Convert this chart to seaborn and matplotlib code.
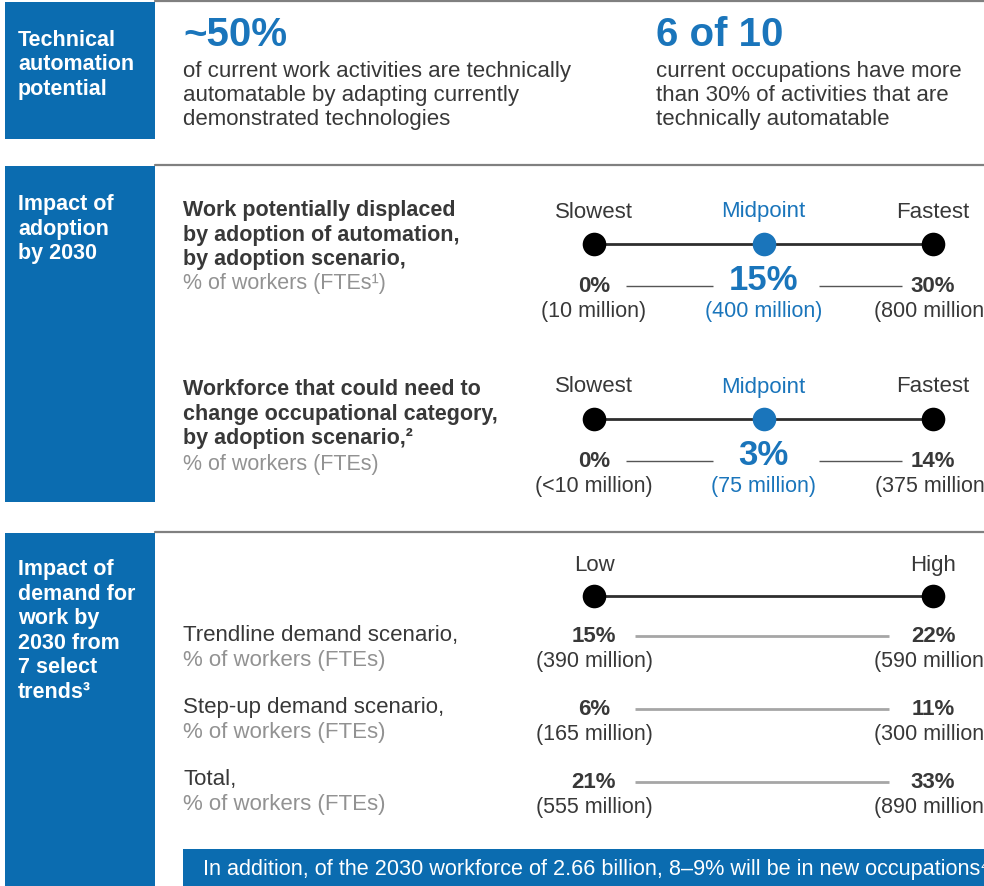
import pandas as pd
import seaborn as sns
import matplotlib.pyplot as plt
from matplotlib.patches import Rectangle

sns.set_theme(style='white')
plt.rcParams['font.family'] = ['Liberation Sans', 'DejaVu Sans']

# dados
section_titles = [
    ['Technical', 'automation', 'potential'],
    ['Impact of', 'adoption', 'by 2030'],
    ['Impact of', 'demand for', 'work by', '2030 from', '7 select', 'trends³'],
]
headline_values = ['~50%', '6 of 10']
headline_texts = [
    ['of current work activities are technically',
     'automatable by adapting currently',
     'demonstrated technologies'],
    ['current occupations have more',
     'than 30% of activities that are',
     'technically automatable'],
]

adoption_scenarios = ['Slowest', 'Midpoint', 'Fastest']
displaced_title = ['Work potentially displaced', 'by adoption of automation,',
                   'by adoption scenario,']
displaced_pct = [0, 15, 30]
displaced_millions = ['10', '400', '800']
change_title = ['Workforce that could need to', 'change occupational category,',
                'by adoption scenario,²']
change_pct = [0, 3, 14]
change_millions = ['<10', '75', '375']

demand_levels = ['Low', 'High']
demand_scenarios = ['Trendline demand scenario,', 'Step-up demand scenario,', 'Total,']
demand_pct = [[15, 22], [6, 11], [21, 33]]
demand_millions = [[390, 590], [165, 300], [555, 890]]

banner_text = 'In addition, of the 2030 workforce of 2.66 billion, 8–9% will be in new occupations⁴'

# cores
BLUE_BOX = '#0b6cb0'
BLUE_TXT = '#1a75bb'
DARK = '#383838'
GRAY = '#929292'

W, H = 984, 887
fig = plt.figure(figsize=(W / 100, H / 100), dpi=100)
bg = fig.add_axes([0, 0, 1, 1])
bg.set_xlim(0, W)
bg.set_ylim(H, 0)
bg.axis('off')

# caixas azuis e linhas de separação
for top, bottom in [(3, 140), (167, 503), (534, 887)]:
    bg.add_patch(Rectangle((5, top), 150, bottom - top, color=BLUE_BOX, lw=0))
    bg.plot([155, W], [top - 1, top - 1], color='#808080', lw=1.6)

for lines, y0 in zip(section_titles, [40, 205, 570]):
    for i, line in enumerate(lines):
        bg.text(18, y0 + i * 24.5, line, color='white', fontsize=15.5,
                fontweight='bold', va='center')

# secção 1
for val, lines, x0 in zip(headline_values, headline_texts, [183, 656]):
    bg.text(x0, 35, val, color=BLUE_TXT, fontsize=29, fontweight='bold', va='center')
    for i, line in enumerate(lines):
        bg.text(x0, 71 + i * 24.5, line, color=DARK, fontsize=16, va='center')

# textos da esquerda (secção 2)
for lines, y0 in zip([displaced_title, change_title], [211, 390]):
    for i, line in enumerate(lines):
        bg.text(183, y0 + i * 24.5, line, color=DARK, fontsize=15.5,
                fontweight='bold', va='center')
bg.text(183, 284, '% of workers (FTEs¹)', color=GRAY, fontsize=15.5, va='center')
bg.text(183, 465, '% of workers (FTEs)', color=GRAY, fontsize=15.5, va='center')

# textos da esquerda (secção 3)
for i, name in enumerate(demand_scenarios):
    y = 636 + i * 72
    bg.text(183, y, name, color=DARK, fontsize=16, va='center')
    bg.text(183, y + 25, '% of workers (FTEs)', color=GRAY, fontsize=16, va='center')

# faixa inferior
bg.add_patch(Rectangle((183, 850), W - 183, 40, color=BLUE_BOX, lw=0))
bg.text(203, 870, banner_text, color='white', fontsize=15.6, va='center')


def strip_axes(top, bottom):
    ax = fig.add_axes([594 / W, 1 - bottom / H, (933 - 594) / W, (bottom - top) / H])
    return ax


def draw_strip(ax, labels, dot_y, dot_colors, label_y, label_colors, top, bottom):
    df = pd.DataFrame({'scenario': labels, 'y': [dot_y] * len(labels)})
    sns.pointplot(data=df, x='scenario', y='y', color='#2e2e2e', markers='',
                  linewidth=2, errorbar=None, ax=ax)
    sns.stripplot(data=df, x='scenario', y='y', hue='scenario',
                  palette=dict(zip(labels, dot_colors)), jitter=False, size=17,
                  linewidth=0, legend=False, ax=ax, zorder=4)
    for art in ax.collections + ax.lines:
        art.set_clip_on(False)
    ax.set_xlim(0, len(labels) - 1)
    ax.set_ylim(bottom, top)
    ax.axis('off')
    for i, (lab, col) in enumerate(zip(labels, label_colors)):
        ax.text(i, label_y, lab, color=col, fontsize=16, ha='center', va='center')


# secção 2: cenários de adoção
for pct, mil, top in [(displaced_pct, displaced_millions, 195),
                      (change_pct, change_millions, 370)]:
    bottom = top + 135
    ax = strip_axes(top, bottom)
    draw_strip(ax, adoption_scenarios, top + 50, ['black', BLUE_TXT, 'black'],
               top + 17, [DARK, BLUE_TXT, DARK], top, bottom)
    y_pct = top + 92
    y_mil = top + 117
    for i, (p, m) in enumerate(zip(pct, mil)):
        if i == 1:
            ax.text(i, y_pct - 6, f'{p}%', color=BLUE_TXT, fontsize=25,
                    fontweight='bold', ha='center', va='center')
            col = BLUE_TXT
        else:
            ax.text(i, y_pct, f'{p}%', color=DARK, fontsize=16,
                    fontweight='bold', ha='center', va='center')
            col = DARK
        ax.text(i, y_mil, f'({m} million)', color=col, fontsize=15.5,
                ha='center', va='center')
    ax.hlines(y_pct, 0.19, 0.70, color='#555555', lw=1)
    ax.hlines(y_pct, 1.33, 1.82, color='#555555', lw=1)

# secção 3: cenários de procura
top, bottom = 550, 820
ax = strip_axes(top, bottom)
draw_strip(ax, demand_levels, 597, ['black', 'black'], 566, [DARK, DARK], top, bottom)
for k, (pct, mil) in enumerate(zip(demand_pct, demand_millions)):
    y_pct = 637 + k * 73
    for i, (p, m) in enumerate(zip(pct, mil)):
        ax.text(i, y_pct, f'{p}%', color=DARK, fontsize=16, fontweight='bold',
                ha='center', va='center')
        ax.text(i, y_pct + 25, f'({m} million)', color=DARK, fontsize=15.5,
                ha='center', va='center')
    ax.hlines(y_pct, 0.12, 0.87, color='#a6a6a6', lw=2)

fig.savefig('out.png', dpi=100)
